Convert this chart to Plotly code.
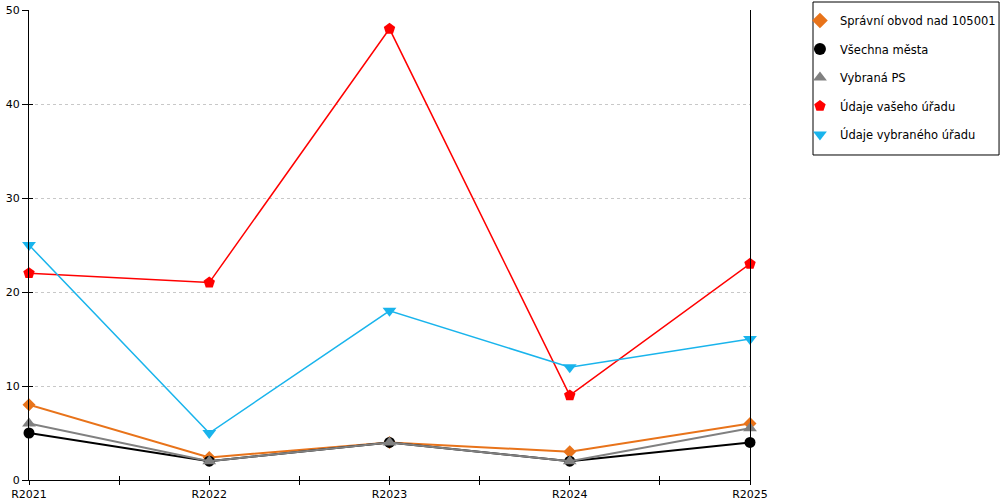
import plotly.graph_objects as go

# --- data ---
roky = ["R2021", "R2022", "R2023", "R2024", "R2025"]

spravni_obvod = [8, 2.4, 4, 3, 6]
vsechna_mesta = [5, 2, 4, 2, 4]
vybrana_ps = [6, 2, 4, 2, 5.5]
vas_urad = [22, 21, 48, 9, 23]
vybrany_urad = [25, 5, 18, 12, 15]

serie = [
    ("Správní obvod nad 105001", spravni_obvod, "#E8731A", "diamond", 2, 10),
    ("Všechna města", vsechna_mesta, "#000000", "circle", 2, 11),
    ("Vybraná PS", vybrana_ps, "#808080", "triangle-up", 2, 12),
    ("Údaje vašeho úřadu", vas_urad, "#FF0000", "pentagon", 1.5, 12),
    ("Údaje vybraného úřadu", vybrany_urad, "#19B4EC", "triangle-down", 1.5, 12),
]

x_idx = list(range(len(roky)))

fig = go.Figure()
for i, (nazev, hodnoty, barva, symbol, sirka, velikost) in enumerate(serie):
    fig.add_trace(go.Scatter(
        x=x_idx, y=hodnoty, name=nazev, mode="lines+markers",
        line=dict(color=barva, width=sirka),
        marker=dict(symbol=symbol, color=barva, size=velikost),
        showlegend=False, cliponaxis=False,
    ))
    # legenda ukazuje jen znacku, bez cary
    fig.add_trace(go.Scatter(
        x=[None], y=[None], name=nazev, mode="markers",
        marker=dict(symbol=symbol, color=barva, size=velikost),
        legendgroup=str(i),
    ))

# pomocne osy jen kvuli carkam pres osu (dovnitr)
fig.add_trace(go.Scatter(x=[None], y=[None], xaxis="x2", yaxis="y2",
                         showlegend=False, hoverinfo="skip"))

# ramecek legendy
fig.add_shape(type="rect", xref="paper", yref="paper",
              x0=1.0874, x1=1.3454, y0=0.6915, y1=1.017,
              line=dict(color="#000", width=1), layer="above")

fig.update_layout(
    width=1000, height=500,
    margin=dict(l=29, r=250, t=10, b=20, autoexpand=False),
    plot_bgcolor="white", paper_bgcolor="white",
    font=dict(family="DejaVu Sans", size=11, color="#000"),
    showlegend=True,
    legend=dict(
        x=1.0693, y=1.0085, xanchor="left", yanchor="top",
        borderwidth=0, bgcolor="rgba(0,0,0,0)",
        font=dict(size=11.5), tracegroupgap=9.5, itemsizing="constant",
        itemwidth=30,
    ),
    xaxis=dict(
        range=[0, 4], tickvals=x_idx, ticktext=roky,
        showline=True, linecolor="#000", linewidth=1,
        ticks="outside", ticklen=4, tickcolor="#000",
        minor=dict(dtick=0.5, tick0=0, ticks="outside", ticklen=4, tickcolor="#000"),
        showgrid=False, zeroline=False,
    ),
    yaxis=dict(
        range=[0, 50], dtick=10,
        showline=True, linecolor="#000", linewidth=1, mirror=True,
        ticks="outside", ticklen=6, tickcolor="#000",
        showgrid=True, gridcolor="#C8C8C8", griddash="dot", gridwidth=1,
        zeroline=False,
    ),
    xaxis2=dict(
        overlaying="x", side="bottom", range=[0, 4], tickvals=x_idx,
        showticklabels=False, ticks="inside", ticklen=4, tickcolor="#000",
        minor=dict(dtick=0.5, tick0=0, ticks="inside", ticklen=4, tickcolor="#000"),
        showgrid=False, zeroline=False, showline=False,
    ),
    yaxis2=dict(
        overlaying="y", side="left", range=[0, 50], dtick=10,
        showticklabels=False, ticks="inside", ticklen=4, tickcolor="#000",
        showgrid=False, zeroline=False, showline=False,
    ),
)

fig.write_html("out.html", config={"displayModeBar": False},
               post_script="document.body.style.margin='0';")
